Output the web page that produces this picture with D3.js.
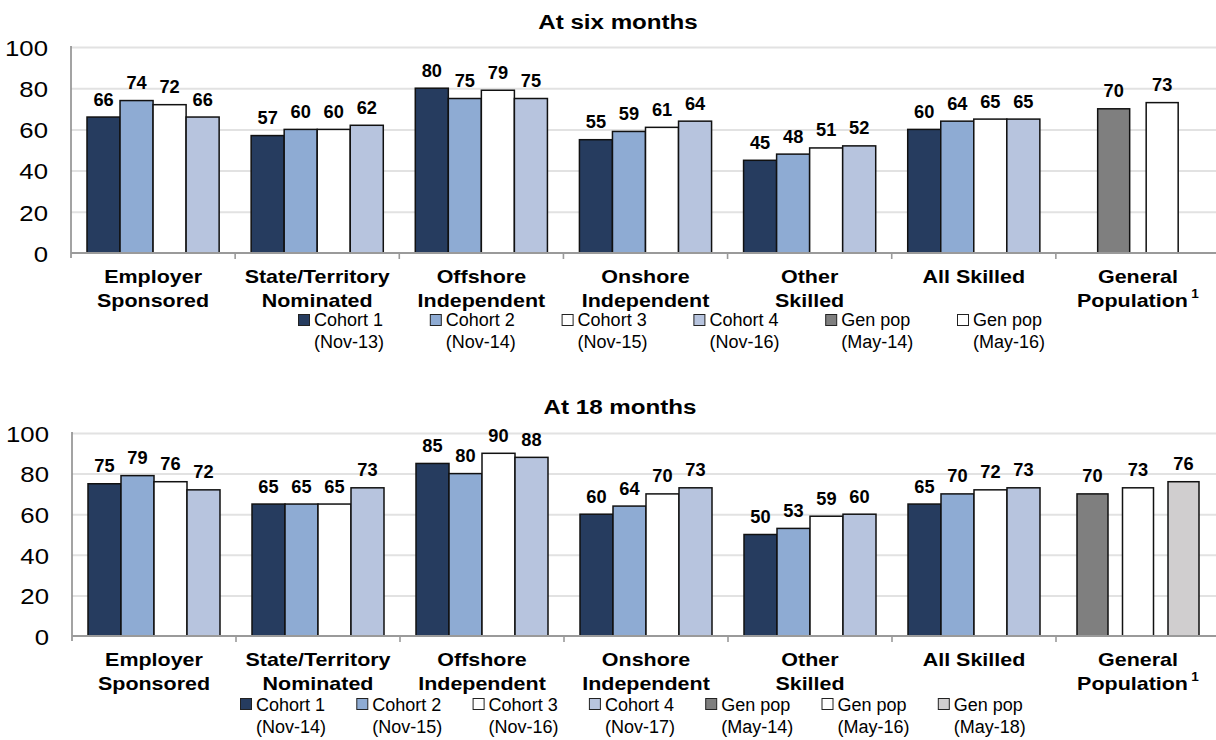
<!DOCTYPE html>
<html>
<head>
<meta charset="utf-8">
<script src="https://cdn.jsdelivr.net/npm/d3@7"></script>
<style>
  body { margin: 0; background: #fff; }
  svg { display: block; font-family: "Liberation Sans", Arial, sans-serif; }
</style>
</head>
<body>
<svg id="chart" width="1216" height="740"></svg>
<script>
// Categories (x axis), split over two lines where the label wraps
const categories = ["Employer Sponsored", "State/Territory Nominated", "Offshore Independent",
  "Onshore Independent", "Other Skilled", "All Skilled", "General Population"];
const categoryLines = [["Employer", "Sponsored"], ["State/Territory", "Nominated"], ["Offshore", "Independent"],
  ["Onshore", "Independent"], ["Other", "Skilled"], ["All Skilled"], ["General", "Population"]];
const cohortKeys = ["Cohort 1", "Cohort 2", "Cohort 3", "Cohort 4"];
const yTicks = [0, 20, 40, 60, 80, 100];

// At six months: one value per skilled category for each cohort
const sixCohort1 = [66, 57, 80, 55, 45, 60];
const sixCohort2 = [74, 60, 75, 59, 48, 64];
const sixCohort3 = [72, 60, 79, 61, 51, 65];
const sixCohort4 = [66, 62, 75, 64, 52, 65];
const sixGenPopKeys = ["May-14", "May-16"];
const sixGenPop = [70, 73];
const sixLegend = [["Cohort 1", "(Nov-13)"], ["Cohort 2", "(Nov-14)"], ["Cohort 3", "(Nov-15)"],
  ["Cohort 4", "(Nov-16)"], ["Gen pop", "(May-14)"], ["Gen pop", "(May-16)"]];

// At 18 months
const eighteenCohort1 = [75, 65, 85, 60, 50, 65];
const eighteenCohort2 = [79, 65, 80, 64, 53, 70];
const eighteenCohort3 = [76, 65, 90, 70, 59, 72];
const eighteenCohort4 = [72, 73, 88, 73, 60, 73];
const eighteenGenPopKeys = ["May-14", "May-16", "May-18"];
const eighteenGenPop = [70, 73, 76];
const eighteenLegend = [["Cohort 1", "(Nov-14)"], ["Cohort 2", "(Nov-15)"], ["Cohort 3", "(Nov-16)"],
  ["Cohort 4", "(Nov-17)"], ["Gen pop", "(May-14)"], ["Gen pop", "(May-16)"], ["Gen pop", "(May-18)"]];

// Fill colours
const cohortColors = ["#263c5f", "#8eabd3", "#ffffff", "#b7c4de"];
const genPopColors = ["#7f7f7f", "#ffffff", "#d0cecf"];

const svg = d3.select("#chart");

// text helper: horizontally stretched glyphs anchored at (x, y)
function label(g, x, y, str, opts) {
  const t = g.append("text")
    .attr("transform", `translate(${x},${y}) scale(${opts.sx || 1},1)`)
    .attr("text-anchor", opts.anchor || "middle")
    .attr("font-size", opts.size)
    .attr("font-weight", opts.bold ? "bold" : "normal")
    .attr("fill", "#000")
    .text(str);
  return t;
}

const panels = [
  {
    title: "At six months", titleX: 618, titleY: 29,
    x0: 71, x1: 1220, yTop: 47, yZero: 253,
    cohorts: [sixCohort1, sixCohort2, sixCohort3, sixCohort4],
    genKeys: sixGenPopKeys, gen: sixGenPop, genStep: 48.5, genW: 32,
    legend: sixLegend, legendX: 298, legendStep: 131.8,
    legendBox: 61, legendLine1: 72.5, legendLine2: 95
  },
  {
    title: "At 18 months", titleX: 620, titleY: 414,
    x0: 72, x1: 1220, yTop: 433, yZero: 636,
    cohorts: [eighteenCohort1, eighteenCohort2, eighteenCohort3, eighteenCohort4],
    genKeys: eighteenGenPopKeys, gen: eighteenGenPop, genStep: 45.5, genW: 31,
    legend: eighteenLegend, legendX: 240, legendStep: 116.3,
    legendBox: 62, legendLine1: 75, legendLine2: 97
  }
];

panels.forEach(p => {
  const g = svg.append("g");

  const x = d3.scaleBand().domain(categories).range([p.x0, p.x1]).padding(0);
  const y = d3.scaleLinear().domain([0, 100]).range([p.yZero, p.yTop]);
  const bw = x.bandwidth();
  const inner = d3.scaleBand().domain(cohortKeys).range([16, bw - 16]).padding(0);

  // title
  label(g, p.titleX, p.titleY, p.title, { size: 21, bold: true, sx: 1.15 });

  // y axis with gridlines
  const yAxis = g.append("g")
    .attr("transform", `translate(${p.x0},0)`)
    .call(d3.axisLeft(y).tickValues(yTicks).tickSize(-(p.x1 - p.x0)).tickPadding(0));
  yAxis.select(".domain").remove();
  yAxis.selectAll(".tick line")
    .attr("stroke", d => d === 0 ? "none" : "#e2e2e2")
    .attr("stroke-width", 2);
  yAxis.selectAll(".tick text")
    .attr("x", 0)
    .attr("dy", "0.36em")
    .attr("transform", "translate(-23,0) scale(1.12,1)")
    .attr("font-size", 23)
    .attr("font-family", "\"Liberation Sans\", Arial, sans-serif")
    .attr("fill", "#000");

  // left axis line
  g.append("line")
    .attr("x1", p.x0).attr("x2", p.x0)
    .attr("y1", y(100) - 1).attr("y2", p.yZero + 5)
    .attr("stroke", "#8c8c8c").attr("stroke-width", 1.6);

  // cohort bars
  const skilled = categories.slice(0, 6);
  cohortKeys.forEach((k, si) => {
    g.selectAll(null)
      .data(skilled.map((c, ci) => ({ c, v: p.cohorts[si][ci] })))
      .join("rect")
      .attr("x", d => x(d.c) + inner(k))
      .attr("width", inner.bandwidth())
      .attr("y", d => y(d.v))
      .attr("height", d => y(0) - y(d.v))
      .attr("fill", cohortColors[si])
      .attr("stroke", "#111")
      .attr("stroke-width", 1.5);
  });

  // general population bars
  const gc = x("General Population") + bw / 2;
  const n = p.genKeys.length;
  const gx = d3.scaleBand().domain(p.genKeys)
    .range([gc - n * p.genStep / 2, gc + n * p.genStep / 2]).padding(0);
  const genData = p.genKeys.map((k, i) => ({ k, v: p.gen[i], i }));
  g.selectAll(null)
    .data(genData)
    .join("rect")
    .attr("x", d => gx(d.k) + (gx.bandwidth() - p.genW) / 2)
    .attr("width", p.genW)
    .attr("y", d => y(d.v))
    .attr("height", d => y(0) - y(d.v))
    .attr("fill", d => genPopColors[d.i])
    .attr("stroke", "#111")
    .attr("stroke-width", 1.5);

  // value labels
  cohortKeys.forEach((k, si) => {
    skilled.forEach((c, ci) => {
      const v = p.cohorts[si][ci];
      label(g, x(c) + inner(k) + inner.bandwidth() / 2, y(v) - 11.5, v, { size: 19, bold: true, sx: 0.96 });
    });
  });
  genData.forEach(d => {
    label(g, gx(d.k) + gx.bandwidth() / 2, y(d.v) - 11.5, d.v, { size: 19, bold: true, sx: 0.96 });
  });

  // x axis line and ticks at category boundaries
  g.append("line")
    .attr("x1", p.x0).attr("x2", p.x1)
    .attr("y1", p.yZero).attr("y2", p.yZero)
    .attr("stroke", "#9a9a9a").attr("stroke-width", 2);
  g.selectAll(null)
    .data(categories.slice(1))
    .join("line")
    .attr("x1", d => x(d)).attr("x2", d => x(d))
    .attr("y1", p.yZero).attr("y2", p.yZero + 6)
    .attr("stroke", "#9a9a9a").attr("stroke-width", 1.6);

  // category labels
  categories.forEach((c, i) => {
    const cx = x(c) + bw / 2;
    categoryLines[i].forEach((line, li) => {
      const t = label(g, cx, p.yZero + 30 + li * 24, line, { size: 19, bold: true, sx: 1.13 });
      if (c === "General Population" && li === 1) {
        t.append("tspan").attr("dx", 3).attr("dy", -9).attr("font-size", 12).text("1");
      }
    });
  });

  // legend
  const colors = cohortColors.concat(genPopColors.slice(0, n));
  p.legend.forEach((lines, i) => {
    const lx = p.legendX + i * p.legendStep;
    g.append("rect")
      .attr("x", lx + 0.5).attr("y", p.yZero + p.legendBox + 0.5)
      .attr("width", 11).attr("height", 11)
      .attr("fill", colors[i])
      .attr("stroke", "#222").attr("stroke-width", 1);
    label(g, lx + 16, p.yZero + p.legendLine1, lines[0], { size: 18, anchor: "start" });
    label(g, lx + 16, p.yZero + p.legendLine2, lines[1], { size: 18, anchor: "start" });
  });
});
</script>
</body>
</html>
